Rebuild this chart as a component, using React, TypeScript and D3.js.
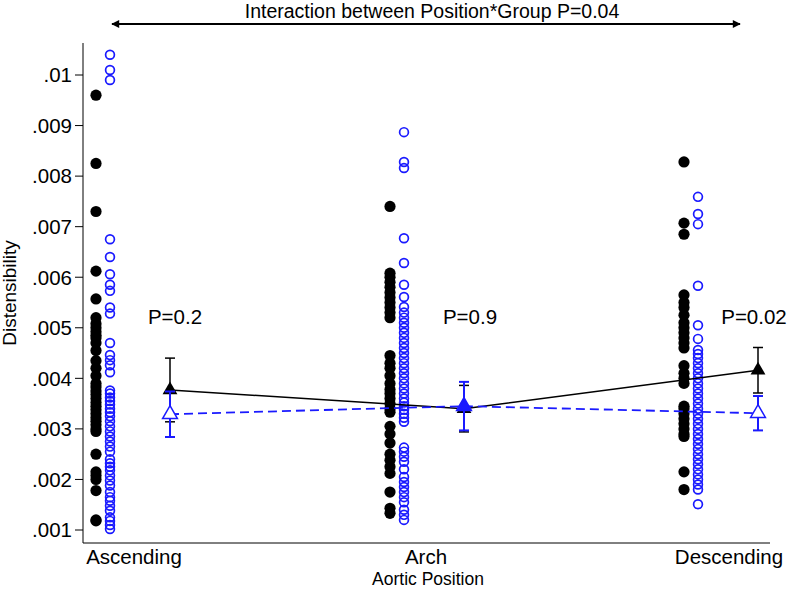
import React from "react";
import * as d3 from "d3";

const categories = ["Ascending", "Arch", "Descending"];
const yTicks = [0.001, 0.002, 0.003, 0.004, 0.005, 0.006, 0.007, 0.008, 0.009, 0.01];
const yTickLabels = [".001", ".002", ".003", ".004", ".005", ".006", ".007", ".008", ".009", ".01"];

const blackAscending = [0.0096, 0.00825, 0.0073, 0.00612, 0.00557, 0.0052, 0.00508, 0.005, 0.00492, 0.00485, 0.0048, 0.0047, 0.00455, 0.00435, 0.0042, 0.00405, 0.0039, 0.00383, 0.00375, 0.00368, 0.0036, 0.00352, 0.00345, 0.00338, 0.0033, 0.00322, 0.00315, 0.00308, 0.003, 0.00295, 0.0025, 0.00215, 0.00208, 0.002, 0.00178, 0.0012, 0.00118];
const blueAscending = [0.0104, 0.0101, 0.0099, 0.00675, 0.0064, 0.00606, 0.00585, 0.00573, 0.0054, 0.00528, 0.0047, 0.00446, 0.00436, 0.00426, 0.00412, 0.00376, 0.0037, 0.00362, 0.00355, 0.00348, 0.0034, 0.00333, 0.00325, 0.00315, 0.00305, 0.00295, 0.00285, 0.00275, 0.00265, 0.00255, 0.0024, 0.00232, 0.00225, 0.00218, 0.00208, 0.00198, 0.00188, 0.00175, 0.00165, 0.00158, 0.00148, 0.00138, 0.00125, 0.00118, 0.0011, 0.00102];
const blackArch = [0.0074, 0.00608, 0.006, 0.0059, 0.0058, 0.0057, 0.0056, 0.0055, 0.0054, 0.0053, 0.0052, 0.00445, 0.0043, 0.0042, 0.00405, 0.0039, 0.00378, 0.0037, 0.0036, 0.0035, 0.0034, 0.00333, 0.00305, 0.0029, 0.00272, 0.0025, 0.00238, 0.00225, 0.00212, 0.00175, 0.00143, 0.00133];
const blueArch = [0.00887, 0.00828, 0.00816, 0.00677, 0.00628, 0.00585, 0.00561, 0.00541, 0.0053, 0.0052, 0.0051, 0.005, 0.0049, 0.0048, 0.0047, 0.0046, 0.0045, 0.0044, 0.0043, 0.0042, 0.0041, 0.004, 0.0039, 0.0038, 0.0037, 0.0036, 0.00352, 0.00345, 0.00338, 0.0033, 0.00322, 0.00314, 0.00263, 0.00255, 0.00245, 0.00235, 0.0022, 0.00205, 0.00195, 0.00185, 0.00175, 0.00165, 0.00155, 0.0014, 0.0013, 0.0012];
const blackDescending = [0.00828, 0.00707, 0.00685, 0.00565, 0.0055, 0.0054, 0.00525, 0.0051, 0.005, 0.0049, 0.0048, 0.0047, 0.0046, 0.00425, 0.0041, 0.004, 0.0039, 0.00345, 0.0034, 0.0033, 0.0032, 0.0031, 0.003, 0.0029, 0.00285, 0.00215, 0.0018];
const blueDescending = [0.00759, 0.00725, 0.00705, 0.00583, 0.00505, 0.00478, 0.00456, 0.00448, 0.0044, 0.0043, 0.0042, 0.0041, 0.004, 0.0039, 0.0038, 0.0037, 0.0036, 0.0035, 0.0034, 0.0033, 0.0032, 0.0031, 0.003, 0.0029, 0.0028, 0.0027, 0.0026, 0.0025, 0.0024, 0.0023, 0.0022, 0.0021, 0.002, 0.0019, 0.0018, 0.00151];

const blackPoints = [blackAscending, blackArch, blackDescending];
const bluePoints = [blueAscending, blueArch, blueDescending];

const blackMeans = [0.00377, 0.0034, 0.00416];
const blackErr = [0.00063, 0.00046, 0.00045];
const blueMeans = [0.00329, 0.00345, 0.00331];
const blueErr = [0.00045, 0.00048, 0.00034];

const pValues = ["P=0.2", "P=0.9", "P=0.02"];
const interactionLabel = "Interaction between Position*Group P=0.04";

const BLUE = "#1a1aff";
const FONT = "'Liberation Sans', Arial, sans-serif";

export default function App() {
  const x = d3.scaleLinear().domain([0, 2]).range([133, 721]);
  const y = d3.scaleLinear().domain([0.001, 0.01]).range([530, 75]);
  const left = 83;
  const bottom = 543;
  const top = 43;
  const right = 770;
  const offBlack = -37;
  const offBlue = -23;
  const offMean = 37;
  const tri = d3.symbol().type(d3.symbolTriangle).size(95)() as string;
  const line = d3.line<number>().x((_, i) => x(i) + offMean).y((d) => y(d));
  const cap = 5;
  const labelShift = [1, -1, 8];
  const pShift = [5, 6, -4];

  return (
    <svg width={787} height={590} style={{ position: "absolute", left: 0, top: 0, background: "#fff" }} fontFamily={FONT}>
      <rect width={787} height={590} fill="#fff" />
      <defs>
        <marker id="ah" viewBox="0 0 10 10" refX="9" refY="5" markerWidth="11" markerHeight="8" markerUnits="userSpaceOnUse" orient="auto-start-reverse">
          <path d="M0,0 L10,5 L0,10 z" fill="#000" />
        </marker>
      </defs>
      <line x1={112} x2={740} y1={24} y2={24} stroke="#000" strokeWidth={2} markerStart="url(#ah)" markerEnd="url(#ah)" />
      <text x={432} y={18} textAnchor="middle" fontSize={19.5}>{interactionLabel}</text>

      {/* axes */}
      <line x1={left} x2={left} y1={top} y2={bottom} stroke="#000" strokeWidth={1} />
      <line x1={left} x2={right} y1={bottom} y2={bottom} stroke="#000" strokeWidth={1} />
      {yTicks.map((t, i) => (
        <g key={i}>
          <line x1={left - 8} x2={left} y1={y(t)} y2={y(t)} stroke="#000" />
          <text x={left - 11} y={y(t)} dy="0.36em" textAnchor="end" fontSize={20.5}>{yTickLabels[i]}</text>
        </g>
      ))}
      <text transform={`translate(16,${(top + bottom) / 2}) rotate(-90)`} textAnchor="middle" fontSize={19}>Distensibility</text>
      {categories.map((c, i) => (
        <text key={c} x={x(i) + labelShift[i]} y={564} textAnchor="middle" fontSize={20.5}>{c}</text>
      ))}
      <text x={428} y={585} textAnchor="middle" fontSize={17.5}>Aortic Position</text>

      {/* scatter */}
      {blackPoints.map((arr, i) =>
        arr.map((v, j) => <circle key={`b${i}-${j}`} cx={x(i) + offBlack} cy={y(v)} r={5.6} fill="#000" />)
      )}
      {bluePoints.map((arr, i) =>
        arr.map((v, j) => <circle key={`o${i}-${j}`} cx={x(i) + offBlue} cy={y(v)} r={4.4} fill="none" stroke={BLUE} strokeWidth={1.7} />)
      )}

      {/* black means */}
      <path d={line(blackMeans) as string} fill="none" stroke="#000" strokeWidth={1.5} />
      {blackMeans.map((m, i) => {
        const cx = x(i) + offMean;
        return (
          <g key={`bm${i}`}>
            <line x1={cx} x2={cx} y1={y(m - blackErr[i])} y2={y(m + blackErr[i])} stroke="#000" strokeWidth={1.5} />
            <line x1={cx - cap} x2={cx + cap} y1={y(m + blackErr[i])} y2={y(m + blackErr[i])} stroke="#000" strokeWidth={1.5} />
            <line x1={cx - cap} x2={cx + cap} y1={y(m - blackErr[i])} y2={y(m - blackErr[i])} stroke="#000" strokeWidth={1.5} />
            <path d={tri} transform={`translate(${cx},${y(m)})`} fill="#000" />
          </g>
        );
      })}

      {/* blue means */}
      <path d={line(blueMeans) as string} fill="none" stroke={BLUE} strokeWidth={1.8} strokeDasharray="9,5" />
      {blueMeans.map((m, i) => {
        const cx = x(i) + offMean;
        return (
          <g key={`om${i}`}>
            <line x1={cx} x2={cx} y1={y(m - blueErr[i])} y2={y(m + blueErr[i])} stroke={BLUE} strokeWidth={2} />
            <line x1={cx - cap} x2={cx + cap} y1={y(m + blueErr[i])} y2={y(m + blueErr[i])} stroke={BLUE} strokeWidth={2} />
            <line x1={cx - cap} x2={cx + cap} y1={y(m - blueErr[i])} y2={y(m - blueErr[i])} stroke={BLUE} strokeWidth={2} />
            <path d={tri} transform={`translate(${cx},${y(m)})`} fill={i === 1 ? BLUE : "#fff"} stroke={BLUE} strokeWidth={1.5} />
          </g>
        );
      })}

      {/* p values */}
      {pValues.map((p, i) => (
        <text key={p} x={x(i) + offMean + pShift[i]} y={324} textAnchor="middle" fontSize={20.5}>{p}</text>
      ))}
    </svg>
  );
}
